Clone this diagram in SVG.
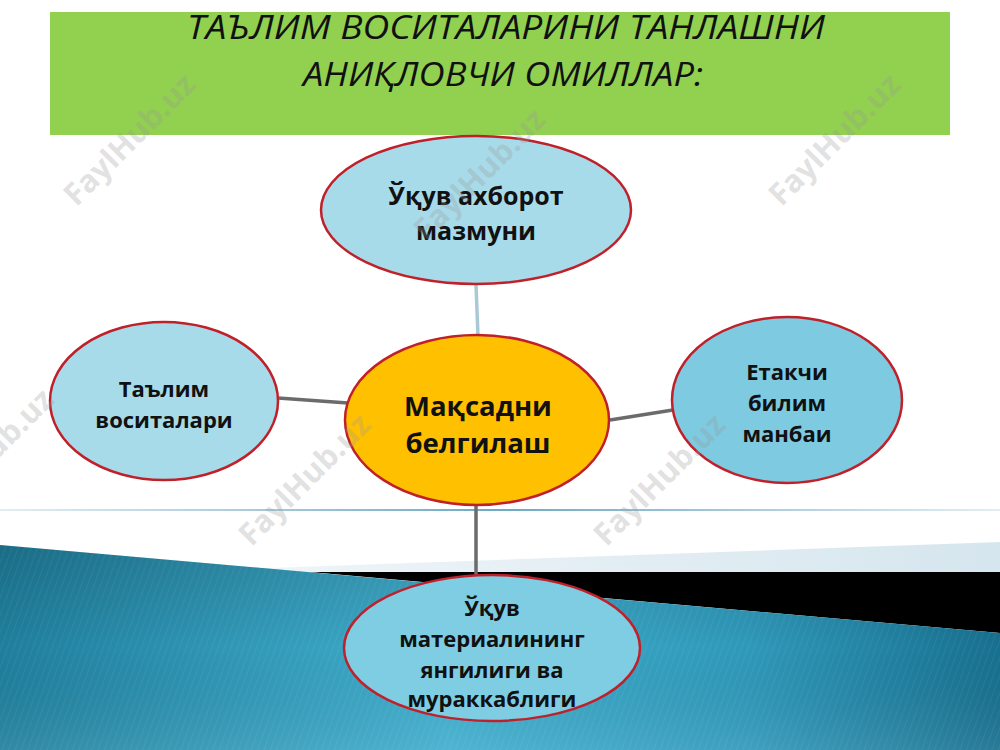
<svg xmlns="http://www.w3.org/2000/svg" width="1000" height="750" viewBox="0 0 1000 750">
<defs>
<linearGradient id="blueG" x1="0" y1="0" x2="1" y2="0">
<stop offset="0" stop-color="#1f7f9d"/>
<stop offset="0.45" stop-color="#40aecd"/>
<stop offset="0.75" stop-color="#2f98b9"/>
<stop offset="1" stop-color="#17708f"/>
</linearGradient>
<linearGradient id="blueV" x1="0" y1="0" x2="0" y2="1">
<stop offset="0" stop-color="#000" stop-opacity="0.15"/>
<stop offset="0.5" stop-color="#000" stop-opacity="0"/>
<stop offset="1" stop-color="#fff" stop-opacity="0.08"/>
</linearGradient>
<linearGradient id="paleG" x1="0" y1="0" x2="1" y2="0">
<stop offset="0" stop-color="#f2f7fa"/>
<stop offset="1" stop-color="#d6e6ee"/>
</linearGradient>
<linearGradient id="lineG" x1="0" y1="0" x2="1" y2="0">
<stop offset="0" stop-color="#6fa9c3" stop-opacity="0.2"/>
<stop offset="0.5" stop-color="#6fa9c3"/>
<stop offset="1" stop-color="#6fa9c3" stop-opacity="0.2"/>
</linearGradient>
<pattern id="stripes" width="6" height="6" patternUnits="userSpaceOnUse" patternTransform="rotate(20)">
<line x1="0" y1="0" x2="0" y2="6" stroke="#ffffff" stroke-opacity="0.06" stroke-width="2"/>
</pattern>
</defs>
<style>
.node { stroke: #c0202a; stroke-width: 2.5; }
.lbl { font-family: "Open Sans", "Noto Sans", "DejaVu Sans", sans-serif; font-weight: bold; fill: #111; text-anchor: middle; }
.title { font-family: "Open Sans", "Noto Sans", "DejaVu Sans", sans-serif; font-style: italic; font-size: 33px; fill: #111; }
.conn { fill: none; stroke-width: 3.5; }
.wm { font-family: "Open Sans", "DejaVu Sans", sans-serif; font-weight: bold; font-size: 31px; fill: #9a9a9a; fill-opacity: 0.3; text-anchor: middle; }
</style>
<rect x="0" y="0" width="1000" height="750" fill="#ffffff"/>
<g id="background">
<rect x="0" y="509" width="1000" height="2" fill="url(#lineG)"/>
<polygon points="157,572 1000,542 1000,572" fill="url(#paleG)"/>
<polygon points="310,572 1000,572 1000,633" fill="#000000"/>
<polygon points="0,545 1000,633 1000,750 0,750" fill="url(#blueG)"/>
<polygon points="0,545 1000,633 1000,750 0,750" fill="url(#blueV)"/>
<polygon points="0,545 1000,633 1000,750 0,750" fill="url(#stripes)"/>
</g>
<g id="title">
<rect x="50" y="12" width="900" height="123" fill="#92d050"/>
<text class="title" x="187" y="39" textLength="638" lengthAdjust="spacingAndGlyphs">ТАЪЛИМ ВОСИТАЛАРИНИ ТАНЛАШНИ</text>
<text class="title" x="303" y="86" textLength="400" lengthAdjust="spacingAndGlyphs">АНИҚЛОВЧИ ОМИЛЛАР:</text>
</g>
<g id="connectors">
<line class="conn" x1="476" y1="285" x2="478" y2="336" stroke="#a9c9d6"/>
<line class="conn" x1="278" y1="398" x2="348" y2="403" stroke="#6b6b6b"/>
<line class="conn" x1="610" y1="420" x2="673" y2="410" stroke="#6b6b6b"/>
<line class="conn" x1="476" y1="505" x2="476" y2="576" stroke="#6b6b6b"/>
</g>
<g id="node-top">
<ellipse class="node" cx="476" cy="210" rx="155" ry="74" fill="#a8dbe9"/>
<text class="lbl" font-size="25" x="476" y="205">Ўқув ахборот</text>
<text class="lbl" font-size="25" x="476" y="240">мазмуни</text>
</g>
<g id="node-center">
<ellipse class="node" cx="477" cy="420" rx="132" ry="85" fill="#ffc000"/>
<text class="lbl" font-size="27.5" x="478" y="416">Мақсадни</text>
<text class="lbl" font-size="27.5" x="478" y="453">белгилаш</text>
</g>
<g id="node-left">
<ellipse class="node" cx="164" cy="401" rx="114" ry="79" fill="#a8dbe9"/>
<text class="lbl" font-size="22" x="164" y="397">Таълим</text>
<text class="lbl" font-size="22" x="164" y="428">воситалари</text>
</g>
<g id="node-right">
<ellipse class="node" cx="787" cy="400" rx="115" ry="83" fill="#7ecae0"/>
<text class="lbl" font-size="22" x="787" y="380">Етакчи</text>
<text class="lbl" font-size="22" x="787" y="411">билим</text>
<text class="lbl" font-size="22" x="787" y="442">манбаи</text>
</g>
<g id="node-bottom">
<ellipse class="node" cx="492" cy="648" rx="148" ry="73" fill="#7ecde2"/>
<text class="lbl" font-size="22" x="492" y="616">Ўқув</text>
<text class="lbl" font-size="22" x="492" y="647">материалининг</text>
<text class="lbl" font-size="22" x="492" y="678">янгилиги ва</text>
<text class="lbl" font-size="22" x="492" y="707">мураккаблиги</text>
</g>
<g id="watermarks">
<text class="wm" transform="translate(137,147) rotate(-45)">FaylHub.uz</text>
<text class="wm" transform="translate(487,182) rotate(-45)">FaylHub.uz</text>
<text class="wm" transform="translate(842,147) rotate(-45)">FaylHub.uz</text>
<text class="wm" transform="translate(-5,462) rotate(-45)">FaylHub.uz</text>
<text class="wm" transform="translate(312,487) rotate(-45)">FaylHub.uz</text>
<text class="wm" transform="translate(667,487) rotate(-45)">FaylHub.uz</text>
</g>
</svg>
